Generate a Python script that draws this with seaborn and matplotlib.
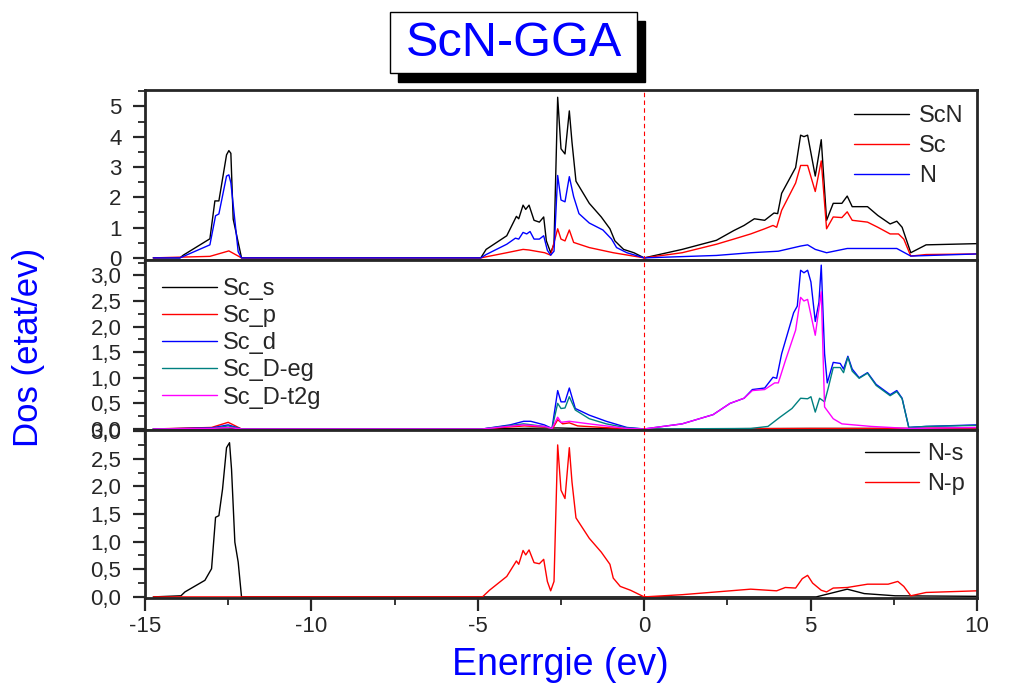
import numpy as np
import pandas as pd
import matplotlib
matplotlib.use("Agg")
import matplotlib.pyplot as plt
from matplotlib.patches import Rectangle
from matplotlib.ticker import MultipleLocator, FuncFormatter
import seaborn as sns

# ---- panneau 1 : DOS totale ----
x_scn = [-14.75, -13.95, -13.85, -13.05, -12.9, -12.78, -12.55, -12.48, -12.42, -12.35, -12.1,
         -4.91, -4.75, -4.13, -3.84, -3.77, -3.64, -3.56, -3.46, -3.31, -3.15, -3.02, -2.94, -2.81,
         -2.71, -2.6, -2.5, -2.38, -2.25, -2.17, -2.05, -1.65, -1.29, -1.03, -0.88, -0.62, -0.31, 0.0,
         1.14, 2.17, 2.69, 3.0, 3.31, 3.62, 3.9, 4.01, 4.13, 4.55, 4.7, 4.8, 4.91, 5.14, 5.32, 5.48,
         5.68, 5.94, 6.1, 6.25, 6.71, 7.02, 7.39, 7.59, 7.75, 8.01, 8.47, 10.0]
y_scn = [0, 0, 0.09, 0.63, 1.88, 1.88, 3.4, 3.54, 3.45, 1.28, 0,
         0, 0.28, 0.73, 1.37, 1.29, 1.74, 1.6, 1.74, 1.24, 1.18, 1.35, 0.56, 0.17,
         0.45, 5.3, 3.6, 3.43, 4.85, 3.82, 2.53, 1.8, 1.35, 0.96, 0.56, 0.28, 0.17, 0,
         0.28, 0.58, 0.9, 1.07, 1.29, 1.24, 1.48, 1.46, 2.13, 2.98, 4.05, 4.0, 4.05, 2.7, 3.9, 1.24,
         1.8, 1.8, 2.04, 1.69, 1.69, 1.4, 1.12, 1.21, 1.01, 0.17, 0.43, 0.47]

x_sc = [-14.75, -13.05, -12.48, -12.1, -4.91, -4.13, -3.64, -3.46, -2.99, -2.81, -2.6, -2.5,
        -2.38, -2.25, -2.12, -1.65, -0.93, 0.0, 1.14, 2.17, 2.69, 3.2, 3.62, 3.87, 3.98, 4.13,
        4.55, 4.7, 4.91, 5.14, 5.32, 5.48, 5.68, 5.94, 6.1, 6.25, 6.71, 7.02, 7.39, 7.64, 7.8,
        8.01, 8.47, 10.0]
y_sc = [0, 0.05, 0.23, 0, 0, 0.17, 0.28, 0.26, 0.17, 0.09, 0.96, 0.62,
        0.56, 0.92, 0.51, 0.34, 0.17, 0, 0.17, 0.45, 0.62, 0.79, 0.96, 1.07, 1.01, 1.57,
        2.47, 3.05, 3.05, 2.19, 3.2, 0.96, 1.35, 1.33, 1.52, 1.24, 1.18, 1.01, 0.79, 0.79, 0.62,
        0.06, 0.11, 0.13]

x_n = [-14.75, -13.95, -13.05, -12.88, -12.78, -12.55, -12.48, -12.42, -12.2, -12.1,
       -4.91, -4.75, -4.13, -3.87, -3.77, -3.64, -3.53, -3.43, -3.31, -3.15, -3.02, -2.91,
       -2.81, -2.71, -2.6, -2.5, -2.38, -2.25, -2.12, -1.96, -1.65, -1.24, -0.98, -0.83, -0.52,
       0.0, 2.17, 3.2, 4.03, 4.7, 4.91, 5.14, 5.48, 6.1, 6.71, 7.59, 8.01, 10.0]
y_n = [0, 0, 0.43, 1.39, 1.45, 2.7, 2.74, 2.48, 0.2, 0,
       0, 0.11, 0.45, 0.65, 0.62, 0.84, 0.79, 0.87, 0.62, 0.62, 0.73, 0.25,
       0.09, 0.22, 2.72, 1.91, 1.85, 2.68, 2.02, 1.46, 1.15, 0.92, 0.62, 0.34, 0.17,
       0, 0.08, 0.17, 0.22, 0.39, 0.43, 0.28, 0.17, 0.31, 0.31, 0.31, 0.06, 0.13]

# ---- panneau 2 : Sc partielle ----
x_sc_s = [-14.75, -12.5, -12.1, -5.0, -2.6, -2.0, 0.0, 5.0, 8.0, 10.0]
y_sc_s = [0, 0.02, 0, 0, 0.02, 0.01, 0, 0.01, 0.01, 0.02]

x_sc_p = [-14.75, -13.0, -12.5, -12.1, -4.9, -3.6, -3.0, -2.75, -2.6, -2.45, -2.25, -2.0,
          -1.0, 0.0, 5.0, 8.0, 10.0]
y_sc_p = [0, 0.03, 0.13, 0, 0, 0.06, 0.04, 0.01, 0.18, 0.1, 0.12, 0.06,
          0.02, 0, 0.01, 0.01, 0.02]

x_sc_d = [-14.75, -13.0, -12.5, -12.1, -4.86, -4.03, -3.62, -3.41, -3.0, -2.77, -2.6, -2.5,
          -2.38, -2.25, -2.07, -1.65, -1.14, -0.52, 0.0, 1.14, 2.07, 2.58, 3.0, 3.25, 3.62,
          3.87, 3.98, 4.13, 4.49, 4.6, 4.7, 4.8, 4.91, 5.01, 5.14, 5.25, 5.32, 5.42, 5.5, 5.68,
          5.89, 5.99, 6.12, 6.25, 6.46, 6.71, 6.97, 7.39, 7.59, 7.75, 7.95, 8.47, 10.0]
y_sc_d = [0, 0.02, 0.08, 0, 0, 0.08, 0.15, 0.15, 0.08, 0.01, 0.75, 0.53,
          0.53, 0.8, 0.4, 0.27, 0.15, 0.03, 0, 0.1, 0.28, 0.5, 0.6, 0.77, 0.8,
          1.01, 0.99, 1.47, 2.27, 2.4, 3.1, 3.05, 3.1, 2.87, 2.1, 2.47, 3.2, 1.47, 0.9, 1.3,
          1.28, 1.17, 1.42, 1.17, 1.0, 1.1, 0.87, 0.67, 0.75, 0.6, 0.03, 0.05, 0.08]

x_sc_eg = [-14.75, -13.0, -12.5, -12.1, -4.86, -3.62, -3.0, -2.77, -2.6, -2.5, -2.38, -2.25,
           -2.07, -1.65, -1.14, -0.52, 0.0, 3.2, 3.72, 4.08, 4.44, 4.7, 4.91, 5.01, 5.14, 5.27,
           5.42, 5.53, 5.68, 5.89, 5.99, 6.12, 6.25, 6.46, 6.71, 6.97, 7.39, 7.59, 7.75, 7.95,
           8.47, 10.0]
y_sc_eg = [0, 0.01, 0.06, 0, 0, 0.1, 0.05, 0.01, 0.5, 0.4, 0.41, 0.63,
           0.37, 0.2, 0.1, 0.02, 0, 0.01, 0.05, 0.23, 0.4, 0.6, 0.59, 0.63, 0.33, 0.6,
           0.53, 0.8, 1.2, 1.2, 1.1, 1.4, 1.13, 0.99, 1.09, 0.85, 0.65, 0.73, 0.59, 0.03,
           0.05, 0.07]

x_sc_t2g = [-14.75, -13.0, -12.5, -12.1, -4.86, -3.62, -3.0, -2.77, -2.6, -2.5, -2.25, -1.65,
            -0.52, 0.0, 1.14, 2.07, 2.58, 3.0, 3.25, 3.62, 3.92, 4.03, 4.24, 4.55, 4.7, 4.8,
            4.91, 5.14, 5.32, 5.42, 5.68, 5.94, 6.82, 7.95, 10.0]
y_sc_t2g = [0, 0.01, 0.03, 0, 0, 0.08, 0.05, 0.01, 0.23, 0.13, 0.15, 0.1,
            0.01, 0, 0.1, 0.28, 0.5, 0.6, 0.75, 0.77, 0.9, 0.9, 1.33, 1.93, 2.57, 2.5,
            2.53, 1.83, 2.68, 0.43, 0.2, 0.1, 0.05, 0.01, 0.03]

# ---- panneau 3 : N partielle ----
x_n_s = [-14.75, -13.92, -13.8, -13.2, -13.0, -12.88, -12.78, -12.67, -12.55, -12.46, -12.4,
         -12.3, -12.2, -12.1, -5.0, 5.17, 6.1, 6.61, 7.54, 10.0]
y_n_s = [0, 0.02, 0.09, 0.3, 0.51, 1.44, 1.47, 1.95, 2.7, 2.79, 2.31,
         0.99, 0.63, 0, 0, 0, 0.14, 0.06, 0.02, 0.01]

x_n_p = [-14.75, -4.86, -4.65, -4.13, -3.84, -3.77, -3.64, -3.56, -3.46, -3.31, -3.15, -3.02,
         -2.91, -2.81, -2.71, -2.6, -2.5, -2.38, -2.25, -2.17, -2.05, -1.65, -1.29, -1.03, -0.93,
         -0.72, -0.41, 0.0, 1.14, 2.17, 3.2, 3.98, 4.24, 4.55, 4.75, 4.91, 5.06, 5.32, 5.48, 5.68,
         6.1, 6.71, 7.33, 7.62, 7.8, 8.01, 8.47, 10.0]
y_n_p = [0, 0, 0.12, 0.37, 0.65, 0.59, 0.84, 0.76, 0.85, 0.62, 0.6, 0.68,
         0.28, 0.11, 0.28, 2.75, 1.93, 1.78, 2.7, 2.08, 1.43, 1.06, 0.81, 0.59, 0.34,
         0.19, 0.12, 0, 0.04, 0.09, 0.14, 0.11, 0.17, 0.16, 0.33, 0.39, 0.25, 0.12, 0.09, 0.16,
         0.17, 0.23, 0.23, 0.28, 0.19, 0.02, 0.08, 0.11]

panneaux = [
    [("ScN", x_scn, y_scn, "black"), ("Sc", x_sc, y_sc, "red"), ("N", x_n, y_n, "blue")],
    [("Sc_s", x_sc_s, y_sc_s, "black"), ("Sc_p", x_sc_p, y_sc_p, "red"),
     ("Sc_d", x_sc_d, y_sc_d, "blue"), ("Sc_D-eg", x_sc_eg, y_sc_eg, "#008080"),
     ("Sc_D-t2g", x_sc_t2g, y_sc_t2g, "#ff00ff")],
    [("N-s", x_n_s, y_n_s, "black"), ("N-p", x_n_p, y_n_p, "red")],
]

sns.set_style("ticks")
plt.rcParams['font.family'] = ['Liberation Sans', 'DejaVu Sans']
plt.rcParams['axes.unicode_minus'] = False

fig = plt.figure(figsize=(10.2, 6.93), dpi=100)
gauche, droite = 145 / 1020, 977 / 1020
bords = [90, 260, 430, 598]  # pixels
axes = []
for i in range(3):
    bas = 1 - bords[i + 1] / 693
    haut = 1 - bords[i] / 693
    axes.append(fig.add_axes([gauche, bas, droite - gauche, haut - bas]))

virgule = FuncFormatter(lambda v, p: f"{v:.1f}".replace('.', ','))

# position des légendes : coin, ancrage (fraction d'axes), écart texte, interligne
legendes = [("upper right", (0.984, 0.91), 0.45, 0.33),
            ("upper left", (0.021, 0.895), 0.27, 0.22),
            ("upper right", (0.986, 0.92), 0.35, 0.33)]

for i, (ax, series) in enumerate(zip(axes, panneaux)):
    df = pd.concat([pd.DataFrame({"E": x, "dos": y, "serie": nom}) for nom, x, y, c in series])
    pal = {nom: c for nom, x, y, c in series}
    sns.lineplot(data=df, x="E", y="dos", hue="serie", palette=pal, estimator=None,
                 sort=False, linewidth=1.0, ax=ax)
    ax.axvline(0, color="red", ls=(0, (4, 3)), lw=0.8)
    ax.set_xlim(-15, 10)
    ax.xaxis.set_major_locator(MultipleLocator(5))
    ax.xaxis.set_minor_locator(MultipleLocator(2.5))
    ax.set_xlabel("")
    ax.set_ylabel("")
    for s in ax.spines.values():
        s.set_linewidth(2)
    ax.tick_params(which="major", direction="out", length=9, width=1.6, labelsize=16, pad=4)
    ax.tick_params(which="minor", direction="out", length=5, width=1.3)
    ax.tick_params(axis="y", which="major", pad=8)
    if i < 2:
        ax.tick_params(axis="x", labelbottom=False)
    h, l = ax.get_legend_handles_labels()
    loc, ancre, pad_txt, interligne = legendes[i]
    ax.legend(h, l, loc=loc, bbox_to_anchor=ancre, frameon=False, fontsize=17,
              handlelength=2.3, handletextpad=pad_txt, labelspacing=interligne,
              borderpad=0, borderaxespad=0)
    if i == 0:
        ax.set_ylim(-0.07, 5.54)
        ax.yaxis.set_major_locator(MultipleLocator(1))
        ax.yaxis.set_minor_locator(MultipleLocator(0.5))
    elif i == 1:
        ax.set_ylim(-0.02, 3.3)
        ax.yaxis.set_major_locator(MultipleLocator(0.5))
        ax.yaxis.set_minor_locator(MultipleLocator(0.25))
        ax.yaxis.set_major_formatter(virgule)
    else:
        ax.set_ylim(-0.02, 3.02)
        ax.yaxis.set_major_locator(MultipleLocator(0.5))
        ax.yaxis.set_minor_locator(MultipleLocator(0.25))
        ax.yaxis.set_major_formatter(virgule)

# cadre du titre avec ombre
fig.patches.append(Rectangle((398 / 1020, 1 - 82 / 693), 247 / 1020, 61 / 693,
                             transform=fig.transFigure, fc="black", ec="black", zorder=1))
fig.patches.append(Rectangle((390 / 1020, 1 - 73 / 693), 247 / 1020, 61 / 693,
                             transform=fig.transFigure, fc="white", ec="black", lw=1, zorder=2))
fig.text(514 / 1020, 1 - 43 / 693, "ScN-GGA", color="blue", fontsize=35,
         ha="center", va="center", zorder=3)

fig.text(29 / 1020, 1 - 347 / 693, "Dos (etat/ev)", color="blue", fontsize=25,
         rotation=90, ha="center", va="center")
fig.text(560 / 1020, 1 - 665 / 693, "Enerrgie (ev)", color="blue", fontsize=27,
         ha="center", va="center")

fig.savefig("out.png", dpi=100)
